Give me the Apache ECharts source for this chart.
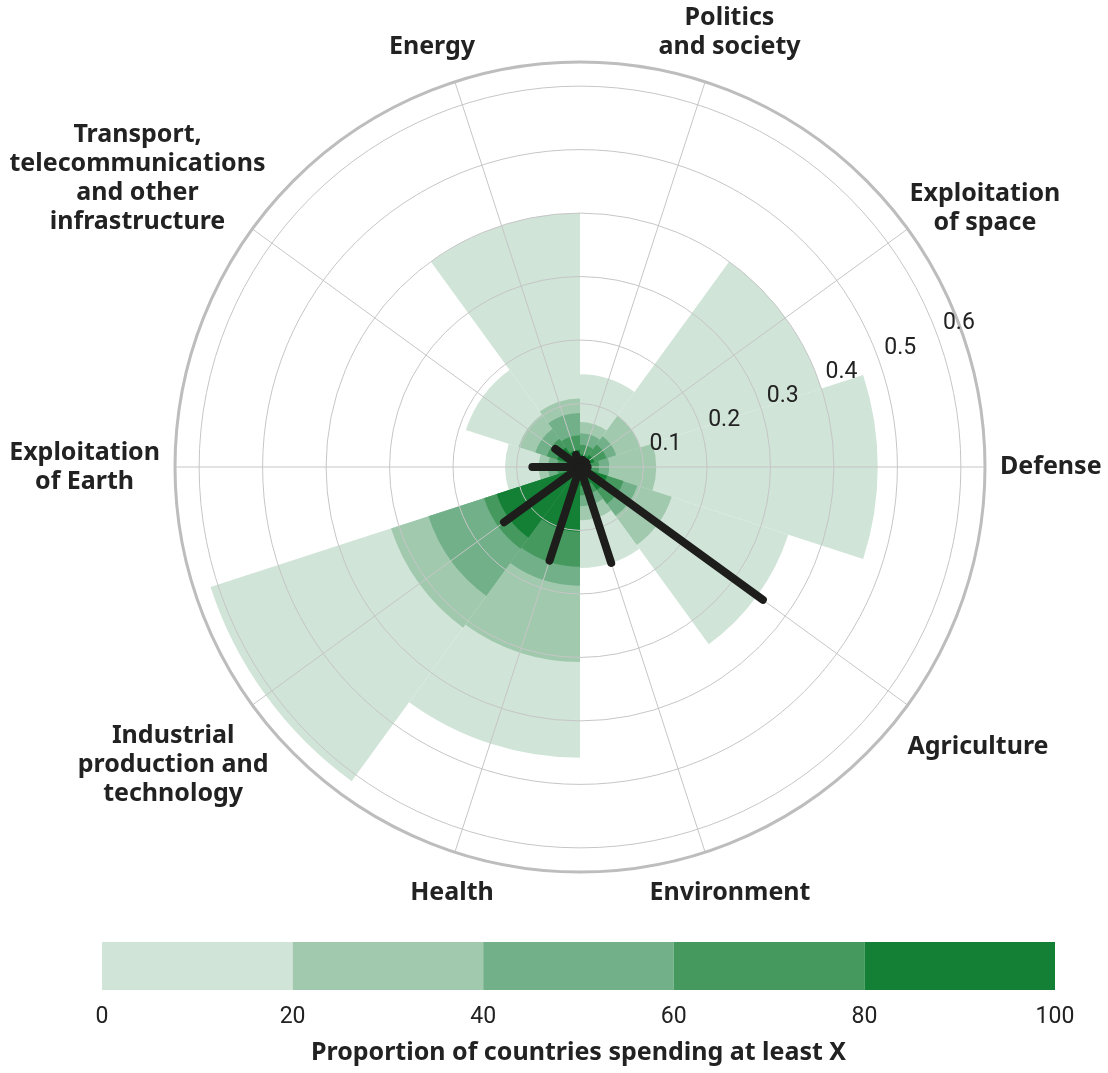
<!DOCTYPE html>
<html>
<head>
<meta charset="utf-8">
<script src="https://cdn.jsdelivr.net/npm/echarts@6/dist/echarts.min.js"></script>
<style>
html, body { margin: 0; padding: 0; background: #fff; }
#main { width: 1108px; height: 1073px; }
</style>
</head>
<body>
<div id="main"></div>
<script>
// sectors, counter-clockwise starting on the right
var categories = ['Defense', 'Exploitation\nof space', 'Politics\nand society', 'Energy',
	'Transport,\ntelecommunications\nand other\ninfrastructure', 'Exploitation\nof Earth',
	'Industrial\nproduction and\ntechnology', 'Health', 'Environment', 'Agriculture'];

// spending share reached by each band of countries
var atLeast0 = [0.469, 0.400, 0.146, 0.400, 0.189, 0.118, 0.612, 0.458, 0.159, 0.345];
var atLeast20 = [0.120, 0.100, 0.071, 0.108, 0.102, 0.065, 0.313, 0.307, 0.084, 0.152];
var atLeast40 = [0.046, 0.060, 0.053, 0.085, 0.074, 0.050, 0.251, 0.187, 0.062, 0.095];
var atLeast60 = [0.030, 0.044, 0.035, 0.050, 0.055, 0.036, 0.159, 0.157, 0.045, 0.072];
var atLeast80 = [0.016, 0.024, 0.020, 0.027, 0.038, 0.022, 0.138, 0.102, 0.030, 0.045];

// black needles
var needle = [0.012, 0.012, 0.012, 0.020, 0.048, 0.075, 0.148, 0.155, 0.159, 0.356];

var radiusTicks = [0.1, 0.2, 0.3, 0.4, 0.5, 0.6];
var legendStops = [0, 20, 40, 60, 80, 100];

var bandColors = ['#d0e4d8', '#a1c9ae', '#71b088', '#45995f', '#138035'];
var ink = '#222';
var gridColor = '#c6c6c6';
var labelFont = 'Noto Sans';

// nudges for the sector names [top, right, bottom, left]
var labelPad = [
	[0, 0, 0, 35], [0, 0, 3, 18], [0, 0, 39, 61], [0, 58, 39, 0], [0, 3, 4, 0],
	[0, 35, 0, 0], [28, 0, 0, 0], [45, 18, 0, 0], [45, 0, 0, 62], [39, 0, 0, 16]
];

var myChart = echarts.init(document.getElementById('main'));

var bands = [atLeast0, atLeast20, atLeast40, atLeast60, atLeast80];
var series = bands.map(function (vals, k) {
	return {
		type: 'bar',
		coordinateSystem: 'polar',
		polarIndex: 0,
		data: vals,
		barGap: '-100%',
		barCategoryGap: '0%',
		itemStyle: { color: bandColors[k] },
		silent: true,
		z: 2
	};
});

series.push({
	type: 'custom',
	coordinateSystem: 'polar',
	polarIndex: 0,
	silent: true,
	z: 10,
	data: needle.map(function (v, i) { return [v, i]; }),
	renderItem: function (params, api) {
		var a = api.coord([0, api.value(1)]);
		var b = api.coord([api.value(0), api.value(1)]);
		return {
			type: 'line',
			shape: { x1: a[0], y1: a[1], x2: b[0], y2: b[1] },
			style: { stroke: '#1d1d1b', lineWidth: 8, lineCap: 'round' }
		};
	}
});

// colour key
for (var k = 0; k < legendStops.length - 1; k++) {
	series.push({
		type: 'bar',
		xAxisIndex: 0,
		yAxisIndex: 0,
		stack: 'key',
		barWidth: '100%',
		silent: true,
		data: [legendStops[k + 1] - legendStops[k]],
		itemStyle: { color: bandColors[k] }
	});
}

var option = {
	animation: false,
	textStyle: { fontFamily: 'Roboto' },
	polar: [
		{ center: [580, 467], radius: 405 },
		{ center: [580, 467], radius: 405 }
	],
	angleAxis: [
		{
			polarIndex: 0,
			type: 'category',
			data: categories.map(function (name, i) {
				return { value: name, textStyle: { padding: labelPad[i] } };
			}),
			boundaryGap: false,
			startAngle: 0,
			clockwise: false,
			z: 5,
			axisLine: { show: false },
			axisTick: { show: false },
			splitLine: { show: true, lineStyle: { color: gridColor, width: 1 } },
			axisLabel: {
				margin: -20,
				formatter: function (v) {
					return v.split('\n').map(function (s) { return '{c|' + s + '}'; }).join('\n');
				},
				rich: {
					c: { align: 'center', fontSize: 25, fontWeight: 'bold', color: ink, lineHeight: 29, fontFamily: labelFont }
				}
			}
		},
		{
			// full outer ring + radius labels live on this one
			polarIndex: 1,
			type: 'value',
			min: 0,
			max: 360,
			startAngle: 22.4,
			z: 5,
			axisLine: { show: true, lineStyle: { color: '#bdbdbd', width: 3 } },
			axisTick: { show: false },
			axisLabel: { show: false },
			splitLine: { show: false }
		}
	],
	radiusAxis: [
		{
			polarIndex: 0,
			type: 'value',
			min: 0,
			max: 0.638,
			interval: 0.1,
			show: false
		},
		{
			polarIndex: 1,
			type: 'value',
			min: 0,
			max: 0.638,
			interval: 0.1,
			z: 5,
			axisLine: { show: false },
			axisTick: { show: false },
			splitLine: { show: true, lineStyle: { color: gridColor, width: 1 } },
			axisLabel: {
				margin: -2,
				align: 'left',
				verticalAlign: 'middle',
				padding: [0, 0, 0, 10],
				fontSize: 23,
				color: ink,
				formatter: function (v) {
					for (var i = 0; i < radiusTicks.length; i++) {
						if (Math.abs(radiusTicks[i] - v) < 1e-6) return radiusTicks[i].toFixed(1);
					}
					return '';
				}
			}
		}
	],
	grid: { left: 102, right: 53, top: 942, height: 48 },
	xAxis: {
		type: 'value',
		min: legendStops[0],
		max: legendStops[legendStops.length - 1],
		interval: 20,
		axisLine: { show: false },
		axisTick: { show: false },
		splitLine: { show: false },
		axisLabel: { fontSize: 23, color: ink, margin: 16 },
		name: 'Proportion of countries spending at least X',
		nameLocation: 'middle',
		nameGap: 50,
		nameTextStyle: { fontSize: 25, fontWeight: 'bold', color: ink, fontFamily: labelFont }
	},
	yAxis: { type: 'category', data: ['key'], show: false },
	series: series
};
myChart.setOption(option);
</script>
</body>
</html>
